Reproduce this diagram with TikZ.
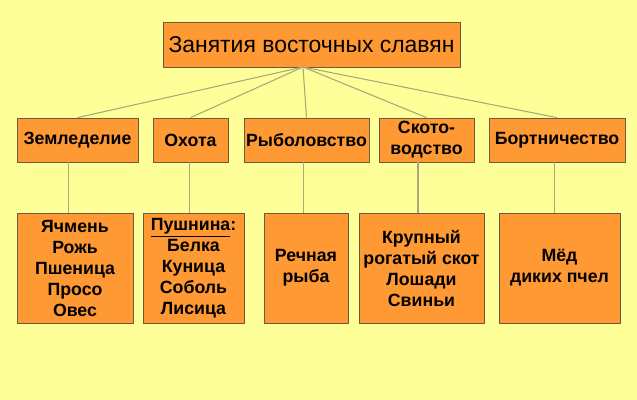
\documentclass[tikz,border=0pt]{standalone}
\usepackage{fontspec}
\setmainfont{Liberation Sans}
\definecolor{bgyellow}{HTML}{FFFF99}
\definecolor{boxorange}{HTML}{FF9933}
\definecolor{boxedge}{HTML}{6E5A3C}
\definecolor{linkgray}{HTML}{A8A878}
\tikzset{
  box/.style={draw=boxedge, line width=0.6pt, fill=boxorange, inner sep=0pt, align=center,
    font=\fontsize{13.3}{15.75}\selectfont\bfseries},
  link/.style={draw=linkgray, line width=0.8pt}
}
\begin{document}
\begin{tikzpicture}[x=0.75pt,y=-0.75pt]
\fill[bgyellow] (0,0) rectangle (637,400);
% top
\node[box, font=\fontsize{17.2}{20}\selectfont, minimum width=222.75pt, minimum height=33.75pt] (top) at (311.5,44.5) {Занятия восточных славян};
\coordinate (hub) at (303,67);
% branches
\node[box, minimum width=90.75pt, minimum height=33pt] (zem) at (77.5,140) {Земледелие};
\node[box, minimum width=56.25pt, minimum height=33pt] (oxo) at (190.5,140) {Охота};
\node[box, minimum width=93.75pt, minimum height=33pt] (ryb) at (306.5,140) {Рыболовство};
\node[box, minimum width=71.25pt, minimum height=33pt] (sko) at (426.5,140) {Ското-\\водство};
\node[box, minimum width=102pt, minimum height=33pt] (bor) at (557,140) {Бортничество};
% leaves
\node[box, minimum width=87pt, minimum height=82.5pt] (yac) at (75,268) {Ячмень\\Рожь\\Пшеница\\Просо\\Овес};
\node[box, minimum width=75.75pt, minimum height=82.5pt] (pus) at (193.5,268) {\underline{Пушнина}:\\Белка\\Куница\\Соболь\\Лисица};
\node[box, minimum width=63pt, minimum height=82.5pt] (fis) at (306,268) {Речная\\рыба};
\node[box, minimum width=93.75pt, minimum height=82.5pt] (cat) at (421.5,268) {Крупный\\рогатый скот\\Лошади\\Свиньи};
\node[box, minimum width=90.75pt, minimum height=82.5pt] (med) at (559.5,268) {Мёд\\диких пчел};
% links
\foreach \n in {zem,oxo,ryb,sko,bor}
  \draw[link] (hub) -- (\n.north);
\foreach \a/\b/\s in {zem/yac/-7, oxo/pus/-1, ryb/fis/-2.5, sko/cat/-6.4, bor/med/-2.2}
  \draw[link] ([xshift=\s pt]\a.south) -- ([xshift=\s pt]\a.south |- \b.north);
\end{tikzpicture}
\end{document}
